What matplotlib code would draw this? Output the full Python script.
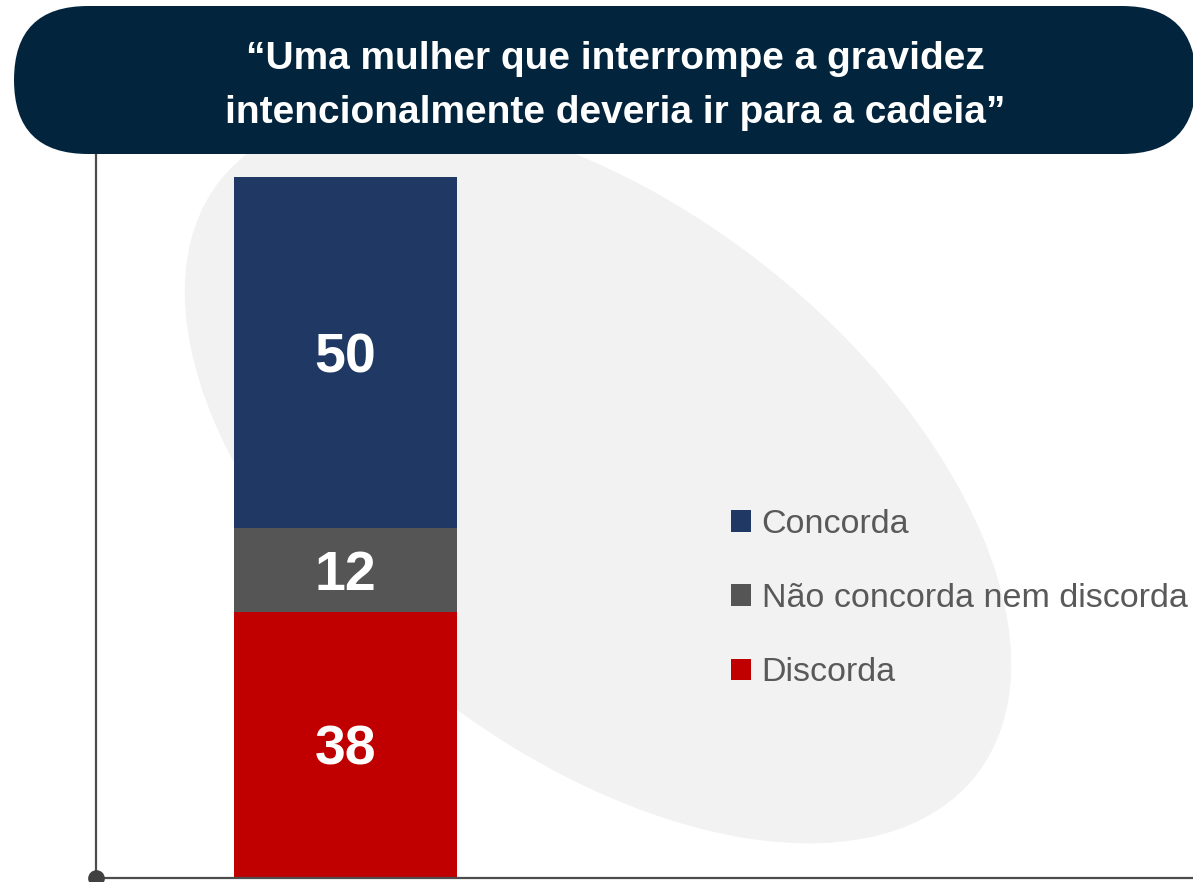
import matplotlib.pyplot as plt
from matplotlib.patches import Ellipse, FancyBboxPatch

# dados
categorias = ["Discorda", "Não concorda nem discorda", "Concorda"]
valores = [38, 12, 50]
cores = ["#c00000", "#555555", "#203864"]
titulo = "“Uma mulher que interrompe a gravidez\nintencionalmente deveria ir para a cadeia”"

plt.rcParams['font.family'] = ['Liberation Sans', 'DejaVu Sans']

W, H = 1193, 882
fig = plt.figure(figsize=(W / 100, H / 100), dpi=100)

# fundo: elipse cinza (em pixels)
bg = fig.add_axes([0, 0, 1, 1], zorder=0)
bg.set_xlim(0, W)
bg.set_ylim(0, H)
bg.axis('off')
bg.add_patch(Ellipse((598, H - 478), 962, 540, angle=-38.2, color='#f2f2f2', lw=0))

# grafico
ax = fig.add_axes([96 / W, (H - 878) / H, (W - 96) / W, (878 - 152) / H], zorder=1)
ax.patch.set_alpha(0)
base = 0
barras = []
for cat, v, c in zip(categorias, valores, cores):
    b = ax.bar(0, v, bottom=base, width=1, color=c, label=cat)
    ax.text(0, base + v / 2, str(v), ha='center', va='center_baseline', color='white',
            fontsize=40, fontweight='bold')
    barras.append(b)
    base += v
ax.set_xlim(-1.119, 3.80)
ax.set_ylim(0, 103.6)
ax.set_xticks([])
ax.set_yticks([])
for s in ['top', 'right']:
    ax.spines[s].set_visible(False)
for s in ['left', 'bottom']:
    ax.spines[s].set_color('#4d4d4d')
    ax.spines[s].set_linewidth(1.6)
ax.plot([-1.119], [0], 'o', color='#404040', markersize=11, clip_on=False, zorder=5)

leg = ax.legend(handles=barras[::-1], labels=categorias[::-1], loc='upper left',
                bbox_to_anchor=(731 / W, 1 - 509 / H), bbox_transform=fig.transFigure,
                frameon=False, fontsize=24.5, handlelength=0.6, handleheight=0.6,
                handletextpad=0.3, labelspacing=1.27, borderpad=0, borderaxespad=0)
for t in leg.get_texts():
    t.set_color('#595959')

# faixa do titulo
top = fig.add_axes([0, 0, 1, 1], zorder=2)
top.set_xlim(0, W)
top.set_ylim(0, H)
top.axis('off')
top.add_patch(FancyBboxPatch((14, H - 154), 1182, 148,
                             boxstyle="round,pad=0,rounding_size=74",
                             color='#02243c', lw=0))
top.text(615, H - 86, titulo, ha='center', va='center', color='white',
         fontsize=28, fontweight='bold', linespacing=1.65)

fig.savefig('out.png', dpi=100)
